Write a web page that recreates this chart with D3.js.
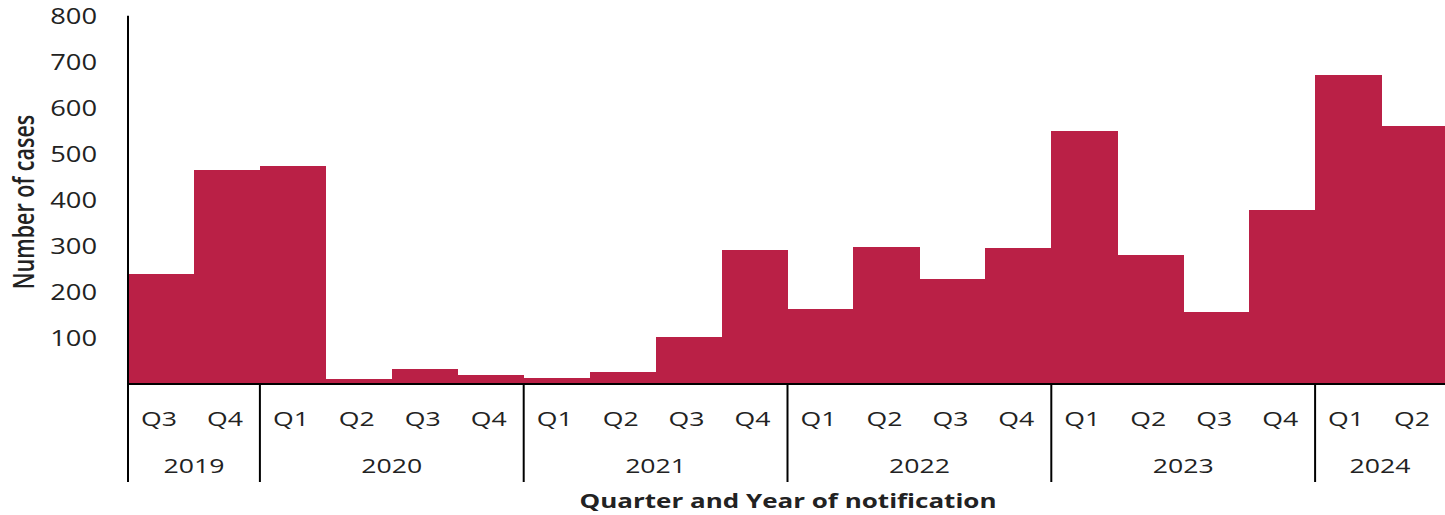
<!DOCTYPE html>
<html>
<head>
<meta charset="utf-8">
<script src="https://cdn.jsdelivr.net/npm/d3@7/dist/d3.min.js"></script>
<style>
  html, body { margin: 0; padding: 0; background: #fff; }
  svg { display: block; }
  text { font-family: "Open Sans", sans-serif; fill: #222; }
</style>
</head>
<body>
<svg id="chart" width="1445" height="515"></svg>
<script>
// Notified cases per quarter, Q3 2019 to Q2 2024
const years = ["2019", "2020", "2021", "2022", "2023", "2024"];
const quarters = ["Q3", "Q4",
  "Q1", "Q2", "Q3", "Q4",
  "Q1", "Q2", "Q3", "Q4",
  "Q1", "Q2", "Q3", "Q4",
  "Q1", "Q2", "Q3", "Q4",
  "Q1", "Q2"];
const quarterYear = ["2019", "2019",
  "2020", "2020", "2020", "2020",
  "2021", "2021", "2021", "2021",
  "2022", "2022", "2022", "2022",
  "2023", "2023", "2023", "2023",
  "2024", "2024"];
const cases = [240, 465,
  473, 10, 32, 19,
  12, 25, 103, 291,
  162, 298, 228, 296,
  550, 280, 156, 378,
  672, 560];
const yTicks = [100, 200, 300, 400, 500, 600, 700, 800];

const svg = d3.select("#chart");
const plotLeft = 128, plotRight = 1447, plotTop = 15.7, plotBase = 384, plotBottom = 482;
const sx = 1.3; // horizontal text stretch

const keys = cases.map((d, i) => i);
const x = d3.scaleBand().domain(keys).range([plotLeft, plotRight]).padding(0);
const y = d3.scaleLinear().domain([0, 800]).range([plotBase, plotTop]);

// bars
svg.append("g").attr("shape-rendering", "crispEdges")
  .selectAll("rect").data(cases).join("rect")
  .attr("x", (d, i) => x(i))
  .attr("width", x.bandwidth() + 0.5)
  .attr("y", d => y(d))
  .attr("height", d => y(0) - y(d))
  .attr("fill", "#BA2046");

// y axis tick labels
svg.append("g").selectAll("text").data(yTicks).join("text")
  .attr("transform", d => `translate(97,${y(d)}) scale(${sx},1)`)
  .attr("text-anchor", "end")
  .attr("dominant-baseline", "central")
  .attr("font-size", 21)
  .text(d => d);

// axis lines
svg.append("line")
  .attr("x1", plotLeft).attr("x2", plotLeft)
  .attr("y1", y(800)).attr("y2", plotBottom)
  .attr("stroke", "#000").attr("stroke-width", 2);
svg.append("line")
  .attr("x1", plotLeft).attr("x2", 1445)
  .attr("y1", plotBase).attr("y2", plotBase)
  .attr("stroke", "#000").attr("stroke-width", 2);

// year group separators
const yearStart = years.map(yr => quarterYear.indexOf(yr));
const yearEnd = years.map(yr => quarterYear.lastIndexOf(yr));
svg.append("g").selectAll("line").data(yearStart.slice(1)).join("line")
  .attr("x1", i => x(i)).attr("x2", i => x(i))
  .attr("y1", plotBase).attr("y2", plotBottom)
  .attr("stroke", "#000").attr("stroke-width", 2);

// quarter labels
svg.append("g").selectAll("text").data(quarters).join("text")
  .attr("transform", (d, i) => `translate(${x(i) + x.bandwidth() / 2 - 2},418) scale(${sx},1)`)
  .attr("text-anchor", "middle")
  .attr("dominant-baseline", "central")
  .attr("font-size", 20.5)
  .text(d => d);

// year labels
svg.append("g").selectAll("text").data(years).join("text")
  .attr("transform", (d, j) => {
    const cx = (x(yearStart[j]) + Math.min(x(yearEnd[j]) + x.bandwidth(), 1445)) / 2;
    return `translate(${cx},465) scale(${sx},1)`;
  })
  .attr("text-anchor", "middle")
  .attr("dominant-baseline", "central")
  .attr("font-size", 20.5)
  .text(d => d);

// axis titles
svg.append("text")
  .attr("transform", `translate(788,500) scale(${sx},1)`)
  .attr("text-anchor", "middle")
  .attr("dominant-baseline", "central")
  .attr("font-size", 20)
  .attr("font-weight", 700)
  .text("Quarter and Year of notification");

svg.append("text")
  .attr("transform", `translate(23,202) scale(${sx},1) rotate(-90)`)
  .attr("text-anchor", "middle")
  .attr("dominant-baseline", "central")
  .attr("font-size", 21.5)
  .attr("font-weight", 600)
  .text("Number of cases");
</script>
</body>
</html>
